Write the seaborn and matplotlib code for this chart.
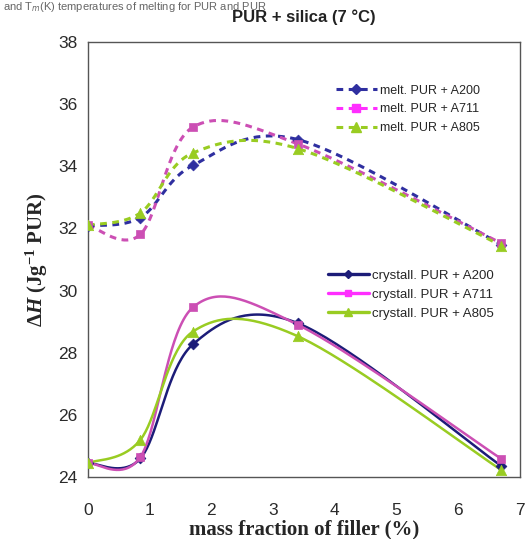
import numpy as np
import pandas as pd
import matplotlib
matplotlib.use("Agg")
import matplotlib.pyplot as plt
from matplotlib.lines import Line2D
import seaborn as sns

# ---- data ----
filler = [0.0, 0.85, 1.7, 3.4, 6.7]
melt_A200 = [32.08, 32.35, 34.03, 34.86, 31.48]
melt_A711 = [32.10, 31.81, 35.26, 34.72, 31.52]
melt_A805 = [32.10, 32.50, 34.43, 34.57, 31.45]
cryst_A200 = [24.45, 24.60, 28.27, 28.95, 24.35]
cryst_A711 = [24.45, 24.65, 29.46, 28.90, 24.58]
cryst_A805 = [24.45, 25.20, 28.68, 28.53, 24.22]
xticks = [0, 1, 2, 3, 4, 5, 6, 7]
yticks = [24, 26, 28, 30, 32, 34, 36, 38]

sns.set_style("white")
plt.rcParams['font.family'] = ['Liberation Sans', 'DejaVu Sans']
plt.rcParams['mathtext.fontset'] = 'custom'
plt.rcParams['mathtext.rm'] = 'Liberation Serif:bold'
plt.rcParams['mathtext.it'] = 'Liberation Serif:bold:italic'
plt.rcParams['mathtext.bf'] = 'Liberation Serif:bold'


def smooth(xs, ys, n=40):
    """Catmull-Rom style Bezier smoothing (like spreadsheet 'smoothed line')."""
    P = np.column_stack([xs, ys]).astype(float)
    m = len(P)
    out = []
    for i in range(m - 1):
        p0 = P[max(i - 1, 0)]
        p1 = P[i]
        p2 = P[i + 1]
        p3 = P[min(i + 2, m - 1)]
        c1 = p1 + (p2 - p0) / 6.0
        c2 = p2 - (p3 - p1) / 6.0
        t = np.linspace(0, 1, n)[:, None]
        seg = ((1 - t) ** 3) * p1 + 3 * ((1 - t) ** 2) * t * c1 + 3 * (1 - t) * t ** 2 * c2 + t ** 3 * p2
        if i > 0:
            seg = seg[1:]
        out.append(seg)
    out = np.vstack(out)
    return out[:, 0], out[:, 1]


fig = plt.figure(figsize=(5.25, 5.39), dpi=100)
ax = fig.add_axes([88 / 525, 1 - 477 / 539, (520 - 88) / 525, (477 - 42) / 539])

navy = '#1c1c78'
navy_d = '#2f2fa0'
pink = '#cc4fb4'
pink_leg = '#ff2eff'
green = '#99cc22'

series = [
    (melt_A200, navy_d, 'D', '--', 5.5),
    (melt_A711, pink, 's', '--', 6),
    (melt_A805, green, '^', '--', 7.5),
    (cryst_A200, navy, 'D', '-', 5.5),
    (cryst_A711, pink, 's', '-', 6),
    (cryst_A805, green, '^', '-', 7.5),
]

for ys, col, mk, ls, ms in series:
    sx, sy = smooth(filler, ys)
    if ls == '--':
        ax.plot(sx, sy, color=col, lw=2.2, dashes=(2.2, 1.8), zorder=2)
    else:
        ax.plot(sx, sy, color=col, lw=1.8, zorder=2)
    df = pd.DataFrame({'x': filler, 'y': ys})
    sns.scatterplot(data=df, x='x', y='y', ax=ax, marker=mk, s=ms ** 2,
                    color=col, edgecolor=col, linewidth=0.5, zorder=3, legend=False)

ax.set_xlim(0, 7)
ax.set_ylim(24, 38)
ax.set_xticks(xticks)
ax.set_yticks(yticks)
ax.tick_params(axis='both', direction='inout', length=7, width=1.0, colors='#555555',
               labelcolor='#2a2a2a', labelsize=12.5)
ax.tick_params(axis='x', pad=15)
ax.tick_params(axis='y', pad=4)
for sp in ax.spines.values():
    sp.set_visible(True)
    sp.set_color('#555555')
    sp.set_linewidth(1.0)

ax.set_xlabel('mass fraction of filler (%)', fontfamily='Liberation Serif',
              fontweight='bold', fontsize=15, labelpad=1)
ax.set_ylabel(r'$\Delta H$ (Jg$^{-1}$ PUR)', fontfamily='Liberation Serif',
              fontweight='bold', fontsize=15, labelpad=6)

fig.text(304 / 525, 1 - 17 / 539, 'PUR + silica (7 °C)', ha='center', va='center',
         fontsize=12, fontweight='bold', color='#222222')
fig.text(0.005, 1 - 0.5 / 539, 'and T$_m$(K) temperatures of melting for PUR and PUR',
         ha='left', va='top', fontsize=8, color='#666666',
         fontfamily='Liberation Sans', math_fontfamily='dejavusans')

h_melt = [
    Line2D([], [], color=navy_d, lw=2.2, dashes=(2.2, 1.8), marker='D', ms=5),
    Line2D([], [], color=pink_leg, lw=2.2, dashes=(2.2, 1.8), marker='s', ms=5.5),
    Line2D([], [], color=green, lw=2.2, dashes=(2.2, 1.8), marker='^', ms=6.5),
]
h_cry = [
    Line2D([], [], color=navy, lw=2.4, marker='D', ms=4),
    Line2D([], [], color=pink_leg, lw=2.4, marker='s', ms=5),
    Line2D([], [], color=green, lw=2.4, marker='^', ms=6),
]
leg1 = ax.legend(h_melt, ['melt. PUR + A200', 'melt. PUR + A711', 'melt. PUR + A805'],
                 loc='upper left', bbox_to_anchor=((333 - 88) / 432, (477 - 82) / 435),
                 frameon=False, fontsize=9, handlelength=3.3, handletextpad=0.3,
                 labelspacing=0.55, borderpad=0.2, borderaxespad=0)
ax.add_artist(leg1)
ax.legend(h_cry, ['crystall. PUR + A200', 'crystall. PUR + A711', 'crystall. PUR + A805'],
          loc='upper left', bbox_to_anchor=((325 - 88) / 432, (477 - 267) / 435),
          frameon=False, fontsize=9.5, handlelength=3.1, handletextpad=0.3,
          labelspacing=0.5, borderpad=0.2, borderaxespad=0)

fig.savefig('out.png', dpi=100)
